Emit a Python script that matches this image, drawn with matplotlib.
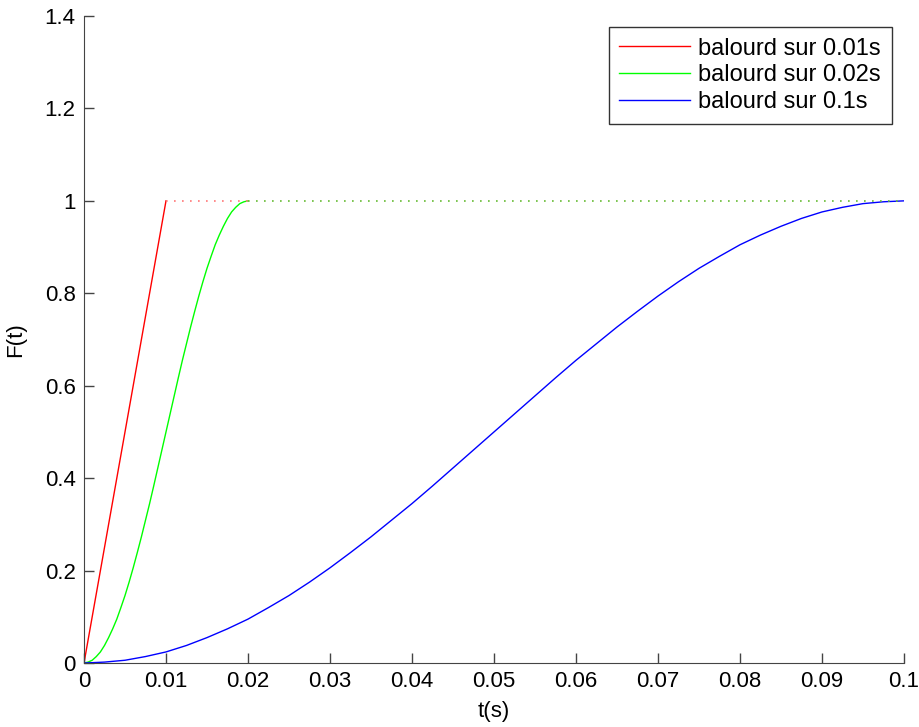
import matplotlib
matplotlib.use("Agg")
from matplotlib import pyplot as plt

plt.rcParams['font.family'] = ['Liberation Sans', 'DejaVu Sans']

# valeurs
t_red = [0.0, 0.01]
f_red = [0.0, 1.0]

f_shape = [0.0, 0.002, 0.006, 0.014, 0.024, 0.038, 0.055, 0.074, 0.095, 0.120,
           0.146, 0.175, 0.206, 0.239, 0.273, 0.309, 0.345, 0.383, 0.422, 0.461,
           0.5, 0.539, 0.578, 0.617, 0.655, 0.691, 0.727, 0.761, 0.794, 0.825,
           0.854, 0.880, 0.905, 0.926, 0.945, 0.962, 0.976, 0.986, 0.994, 0.998, 1.0]

t_green = [0.0005 * i for i in range(41)]
f_green = list(f_shape)

t_blue = [0.0025 * i for i in range(41)]
f_blue = list(f_shape)

t_end = 0.1
labels = ['balourd sur 0.01s', 'balourd sur 0.02s', 'balourd sur 0.1s']

fig = plt.figure(figsize=(9.2, 7.27), dpi=100)
ax = fig.add_axes([0.0913, 0.088, 0.8913, 0.890])

ax.plot(t_red, f_red, color='#ff0000', lw=1, label=labels[0])
ax.plot(t_green, f_green, color='#00ff00', lw=1, label=labels[1])
ax.plot(t_blue, f_blue, color='#0000ff', lw=1, label=labels[2])

# plateau apres la montee (pointilles)
dots = (0, (1, 3.8))
ax.plot([t_red[-1], t_green[-1]], [f_red[-1], f_red[-1]], color='#ff7777', lw=1.2, ls=dots)
ax.plot([t_green[-1], t_end], [f_green[-1], f_green[-1]], color='#66bb33', lw=1.2, ls=dots)

ax.set_xlim(0, 0.1)
ax.set_ylim(0, 1.4)
ax.set_xticks([0, 0.01, 0.02, 0.03, 0.04, 0.05, 0.06, 0.07, 0.08, 0.09, 0.1])
ax.set_xticklabels(['0', '0.01', '0.02', '0.03', '0.04', '0.05', '0.06', '0.07', '0.08', '0.09', '0.1'])
ax.set_yticks([0, 0.2, 0.4, 0.6, 0.8, 1, 1.2, 1.4])
ax.set_yticklabels(['0', '0.2', '0.4', '0.6', '0.8', '1', '1.2', '1.4'])
ax.tick_params(direction='in', labelsize=16, length=7, width=1, color='#444444', pad=6)
ax.spines['top'].set_visible(False)
ax.spines['right'].set_visible(False)
for s in ['left', 'bottom']:
    ax.spines[s].set_color('#444444')

ax.set_xlabel('t(s)', fontsize=16, labelpad=6)
ax.set_ylabel('F(t)', fontsize=16, labelpad=13)

leg = ax.legend(loc='upper right', bbox_to_anchor=(0.985, 0.983), fontsize=17,
                frameon=True, fancybox=False, edgecolor='black', handlelength=3.0,
                borderpad=0.45, labelspacing=0.2, handletextpad=0.35, borderaxespad=0)
leg.get_frame().set_linewidth(1)

fig.savefig('out.png', dpi=100)
